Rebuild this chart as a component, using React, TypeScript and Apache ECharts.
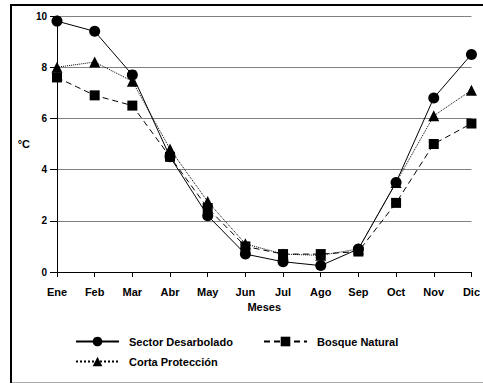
import React, { useEffect, useRef } from "react";
import * as echarts from "echarts";

const months = ["Ene", "Feb", "Mar", "Abr", "May", "Jun", "Jul", "Ago", "Sep", "Oct", "Nov", "Dic"];
const sectorDesarbolado = [9.8, 9.4, 7.7, 4.5, 2.2, 0.7, 0.4, 0.25, 0.9, 3.5, 6.8, 8.5];
const cortaProteccion = [8.0, 8.2, 7.45, 4.8, 2.75, 1.1, 0.7, 0.65, 0.9, 3.5, 6.1, 7.1];
const bosqueNatural = [7.6, 6.9, 6.5, 4.5, 2.5, 1.0, 0.7, 0.7, 0.8, 2.7, 5.0, 5.8];
const yTicks = [0, 2, 4, 6, 8, 10];

const FONT = "'Liberation Sans', Arial, sans-serif";

export default function App() {
  const ref = useRef<HTMLDivElement>(null);
  useEffect(() => {
    if (!ref.current) return;
    const chart = echarts.init(ref.current, null, { renderer: "svg" });
    const legendBase = {
      orient: "horizontal",
      itemWidth: 43,
      itemHeight: 12,
      selectedMode: false,
      textStyle: { fontFamily: FONT, fontWeight: "bold", fontSize: 11, color: "#000", padding: [0, 0, 0, 5] },
    };
    chart.setOption({
      animation: false,
      backgroundColor: "#fff",
      grid: { left: 57, right: 8, top: 16, bottom: 113, containLabel: false },
      xAxis: {
        type: "category",
        data: months,
        boundaryGap: false,
        name: "Meses",
        nameLocation: "middle",
        nameGap: 27,
        nameTextStyle: { fontFamily: FONT, fontWeight: "bold", fontSize: 11, color: "#000" },
        axisLine: { lineStyle: { color: "#000", width: 1 } },
        axisTick: { alignWithLabel: true, length: 5, lineStyle: { color: "#000" } },
        axisLabel: { margin: 14, fontFamily: FONT, fontWeight: "bold", fontSize: 11, color: "#000" },
        splitLine: { show: false },
      },
      yAxis: {
        type: "value",
        min: yTicks[0],
        max: yTicks[yTicks.length - 1],
        interval: 2,
        name: "°C",
        nameLocation: "middle",
        nameRotate: 0,
        nameGap: 22,
        nameTextStyle: { fontFamily: FONT, fontWeight: "bold", fontSize: 11, color: "#000" },
        axisLine: { show: true, lineStyle: { color: "#000", width: 1 } },
        axisTick: { show: true, length: 7, lineStyle: { color: "#000" } },
        axisLabel: { margin: 10, fontFamily: FONT, fontWeight: "bold", fontSize: 10, color: "#000" },
        splitLine: { show: true, lineStyle: { color: "#808080", width: 1 } },
      },
      legend: [
        { ...legendBase, left: 70, top: 331, data: ["Sector Desarbolado"] },
        { ...legendBase, left: 258, top: 331, data: ["Bosque Natural"] },
        { ...legendBase, left: 70, top: 351, data: ["Corta Protección"] },
      ],
      graphic: [
        { type: "line", shape: { x1: 11, y1: 5, x2: 483, y2: 5 }, style: { stroke: "#000", lineWidth: 2 } },
        { type: "line", shape: { x1: 11, y1: 4, x2: 11, y2: 383 }, style: { stroke: "#000", lineWidth: 2 } },
        { type: "line", shape: { x1: 12, y1: 382.5, x2: 483, y2: 382.5 }, style: { stroke: "#aaa", lineWidth: 1 } },
      ],
      series: [
        {
          name: "Corta Protección",
          type: "line",
          data: cortaProteccion,
          symbol: "triangle",
          symbolSize: 11,
          itemStyle: { color: "#000" },
          lineStyle: { color: "#000", width: 1, type: "dotted" },
        },
        {
          name: "Bosque Natural",
          type: "line",
          data: bosqueNatural,
          symbol: "rect",
          symbolSize: 10,
          itemStyle: { color: "#000" },
          lineStyle: { color: "#000", width: 1, type: [6, 4] },
        },
        {
          name: "Sector Desarbolado",
          type: "line",
          data: sectorDesarbolado,
          symbol: "circle",
          symbolSize: 11,
          itemStyle: { color: "#000" },
          lineStyle: { color: "#000", width: 1, type: "solid" },
        },
      ],
    });
    return () => chart.dispose();
  }, []);
  return <div ref={ref} style={{ position: "fixed", left: 0, top: 0, width: 483, height: 385 }} />;
}
